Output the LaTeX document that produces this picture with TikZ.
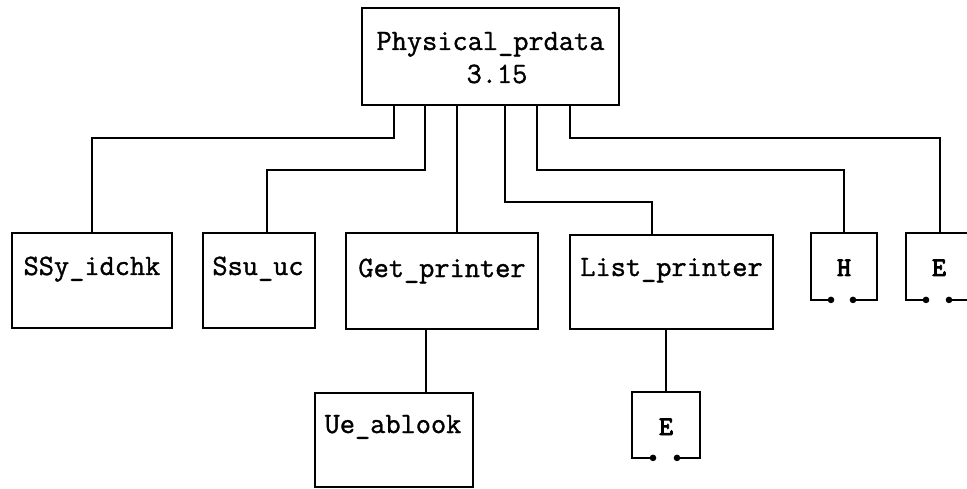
\documentclass[tikz,border=0pt]{standalone}
\usepackage{fontspec}
\newfontfamily\mymono{Latin Modern Mono}[FakeBold=1.2]
\newfontfamily\mymonob{Latin Modern Mono}[FakeBold=3.5]
\usetikzlibrary{calc}
\begin{document}
\begin{tikzpicture}[x=1pt,y=-1pt,line width=1.8pt,
  boxsz/.style args={#1/#2}{draw,line width=1.8pt,inner sep=0pt,minimum width=#1pt,minimum height=#2pt},
  hold/.style args={#1/#2}{draw=none,inner sep=0pt,minimum width=#1pt,minimum height=#2pt},
  lbl/.style={inner sep=0pt,anchor=base,font=\mymono\fontsize{29.5}{32}\selectfont},
  blbl/.style={inner sep=0pt,anchor=base,font=\mymonob\fontsize{27}{30}\selectfont},
  dot/.style={fill=black}]
\useasboundingbox (0,0) rectangle (967,489);
\fill[white] (0,0) rectangle (967,489);

% main boxes
\node[boxsz=257/97] (top) at (490.5,56.5) {};
\node[lbl] (toplbl1) at (490.5,50) {Physical\_prdata};
\node[lbl] (toplbl2) at (497,83) {3.15};

\node[boxsz=160/95] (ssy) at (92,280.5) {};
\node[lbl] (ssylbl) at (92,275) {SSy\_idchk};

\node[boxsz=112/95] (ssu) at (259,280.5) {};
\node[lbl] (ssulbl) at (258,275) {Ssu\_uc};

\node[boxsz=192/96] (get) at (442,281) {};
\node[lbl] (getlbl) at (442,277) {Get\_printer};

\node[boxsz=203/94] (list) at (671.5,282) {};
\node[lbl] (listlbl) at (671.5,276) {List\_printer};

\node[boxsz=158/94] (ue) at (394,440) {};
\node[lbl] (uelbl) at (393,433) {Ue\_ablook};

% connector boxes (open at the bottom)
\node[hold=64/65] (h) at (844,266.5) {};
\node[blbl] (hlbl) at (844,276) {H};
\node[hold=64/65] (e1) at (939,266.5) {};
\node[blbl] (e1lbl) at (939,276) {E};
\node[hold=66/64] (e2) at (666,425) {};
\node[blbl] (e2lbl) at (666,435) {E};

\foreach \n/\l/\r in {h/-13/9, e1/-13/10, e2/-13/11}{
  \draw ($(\n.south)+(\l,0)$) -- (\n.south west) -- (\n.north west) -- (\n.north east) -- (\n.south east) -- ($(\n.south)+(\r,0)$);
  \fill[dot] ($(\n.south)+(\l,0)$) circle (3.3);
  \fill[dot] ($(\n.south)+(\r,0)$) circle (3.3);
}

% connectors
\draw ($(top.south west)+(33,0)$) -- ++(0,32) -| (ssy.north);
\draw ($(top.south west)+(64,0)$) -- ++(0,64) -| ($(ssu.north)+(8,0)$);
\draw ($(top.south west)+(96,0)$) coordinate (s3) -- (s3 |- get.north);
\draw ($(top.south west)+(144,0)$) -- ++(0,96) -| ($(list.north)+(-19.5,0)$);
\draw ($(top.south west)+(176,0)$) -- ++(0,64) -| (h.north);
\draw ($(top.south west)+(209,0)$) -- ++(0,32) -| ($(e1.north)+(1,0)$);
\draw ($(ue.north)+(32,0)$) coordinate (u1) -- (u1 |- get.south);
\draw (e2.north) -- (e2.north |- list.south);
\end{tikzpicture}
\end{document}
